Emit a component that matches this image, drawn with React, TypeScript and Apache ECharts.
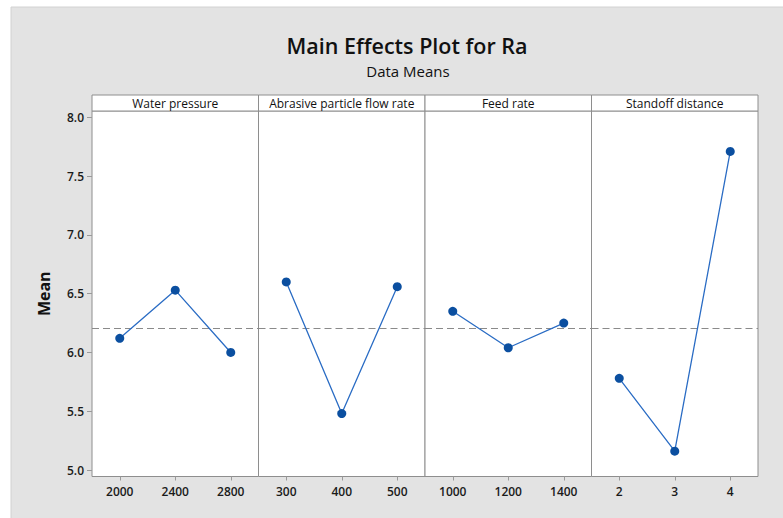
import React, { useEffect, useRef } from "react";
import * as echarts from "echarts";

const factorNames = ["Water pressure", "Abrasive particle flow rate", "Feed rate", "Standoff distance"];
const waterPressureLevels = ["2000", "2400", "2800"];
const waterPressureMeans = [6.12, 6.53, 6.0];
const abrasiveLevels = ["300", "400", "500"];
const abrasiveMeans = [6.6, 5.48, 6.56];
const feedRateLevels = ["1000", "1200", "1400"];
const feedRateMeans = [6.35, 6.04, 6.25];
const standoffLevels = ["2", "3", "4"];
const standoffMeans = [5.78, 5.16, 7.71];
const yTickValues = [5.0, 5.5, 6.0, 6.5, 7.0, 7.5, 8.0];
const grandMean = 6.215;

const levelsList = [waterPressureLevels, abrasiveLevels, feedRateLevels, standoffLevels];
const meansList = [waterPressureMeans, abrasiveMeans, feedRateMeans, standoffMeans];

const FONT = "'Open Sans', 'Noto Sans', sans-serif";

export default function App() {
  const ref = useRef<HTMLDivElement>(null);
  useEffect(() => {
    if (!ref.current) return;
    const chart = echarts.init(ref.current, null, { renderer: "svg" });
    const plotLeft = 92;
    const plotTop = 111;
    const panelW = 166.5;
    const plotH = 365.5;
    const yMin = 4.945;
    const yMax = 8.054;

    const grids: any[] = [];
    const xAxes: any[] = [];
    const yAxes: any[] = [];
    const series: any[] = [];
    const graphics: any[] = [
      { type: "rect", shape: { x: 0, y: 0, width: 783, height: 7 }, style: { fill: "#ffffff" }, silent: true },
      { type: "rect", shape: { x: 0, y: 0, width: 11, height: 518 }, style: { fill: "#ffffff" }, silent: true },
      { type: "line", shape: { x1: 11, y1: 7, x2: 783, y2: 7 }, style: { stroke: "#d2d2d2", lineWidth: 1 }, silent: true },
      { type: "line", shape: { x1: 11, y1: 7, x2: 11, y2: 518 }, style: { stroke: "#d2d2d2", lineWidth: 1 }, silent: true },
    ];

    factorNames.forEach((name, i) => {
      const left = plotLeft + i * panelW;
      grids.push({
        left,
        top: plotTop,
        width: panelW,
        height: plotH,
        show: true,
        backgroundColor: "#ffffff",
        borderColor: "#8e8e8e",
        borderWidth: 1,
      });
      xAxes.push({
        type: "category",
        gridIndex: i,
        data: levelsList[i],
        boundaryGap: true,
        axisLine: { show: false },
        axisTick: { show: true, alignWithLabel: true, length: 4, lineStyle: { color: "#9a9a9a" } },
        axisLabel: { color: "#1a1a1a", fontSize: 12, fontWeight: 600, fontFamily: FONT, margin: 9 },
        splitLine: { show: false },
      });
      yAxes.push({
        type: "value",
        gridIndex: i,
        min: yMin,
        max: yMax,
        show: i === 0,
        name: i === 0 ? "Mean" : "",
        nameLocation: "middle",
        nameGap: 40,
        nameTextStyle: { fontSize: 16, fontWeight: "bold", color: "#111", fontFamily: FONT },
        axisLine: { show: false },
        axisTick: {
          show: true,
          length: 5,
          lineStyle: { color: "#9a9a9a" },
          customValues: yTickValues,
        },
        axisLabel: {
          color: "#1a1a1a",
          fontSize: 12,
          fontWeight: 600,
          fontFamily: FONT,
          margin: 8,
          customValues: yTickValues,
          formatter: (v: number) => v.toFixed(1),
        },
        splitLine: { show: false },
      });
      series.push({
        type: "line",
        xAxisIndex: i,
        yAxisIndex: i,
        data: meansList[i],
        symbol: "circle",
        symbolSize: 9,
        lineStyle: { color: "#2a6cc4", width: 1.3 },
        itemStyle: { color: "#0b4fa0" },
        markLine: {
          silent: true,
          symbol: ["none", "none"],
          label: { show: false },
          lineStyle: { color: "#8a8a8a", type: [7, 4], width: 1.2 },
          data: [{ yAxis: grandMean }],
          z: 1,
        },
        z: 3,
      });
      graphics.push({
        type: "rect",
        shape: { x: left, y: 95, width: panelW, height: 16 },
        style: { fill: "#ffffff", stroke: "#8e8e8e", lineWidth: 1 },
        silent: true,
      });
      graphics.push({
        type: "text",
        x: left + panelW / 2,
        y: 103.5,
        style: {
          text: name,
          fill: "#111",
          fontSize: 12,
          fontWeight: 500,
          fontFamily: FONT,
          align: "center",
          verticalAlign: "middle",
        },
        silent: true,
      });
    });

    chart.setOption({
      animation: false,
      backgroundColor: "#e3e3e3",
      title: [
        {
          text: "Main Effects Plot for Ra",
          left: 402,
          top: 29,
          textAlign: "center",
          textStyle: { fontSize: 21.5, fontWeight: 600, color: "#111", fontFamily: FONT },
        },
        {
          text: "Data Means",
          left: 403,
          top: 58,
          textAlign: "center",
          textStyle: { fontSize: 15, fontWeight: 500, color: "#111", fontFamily: FONT },
        },
      ],
      grid: grids,
      xAxis: xAxes,
      yAxis: yAxes,
      series,
      graphic: graphics,
    });
    return () => chart.dispose();
  }, []);
  return (
    <div
      ref={ref}
      style={{ position: "absolute", left: 0, top: 0, width: 783, height: 518 }}
    />
  );
}
